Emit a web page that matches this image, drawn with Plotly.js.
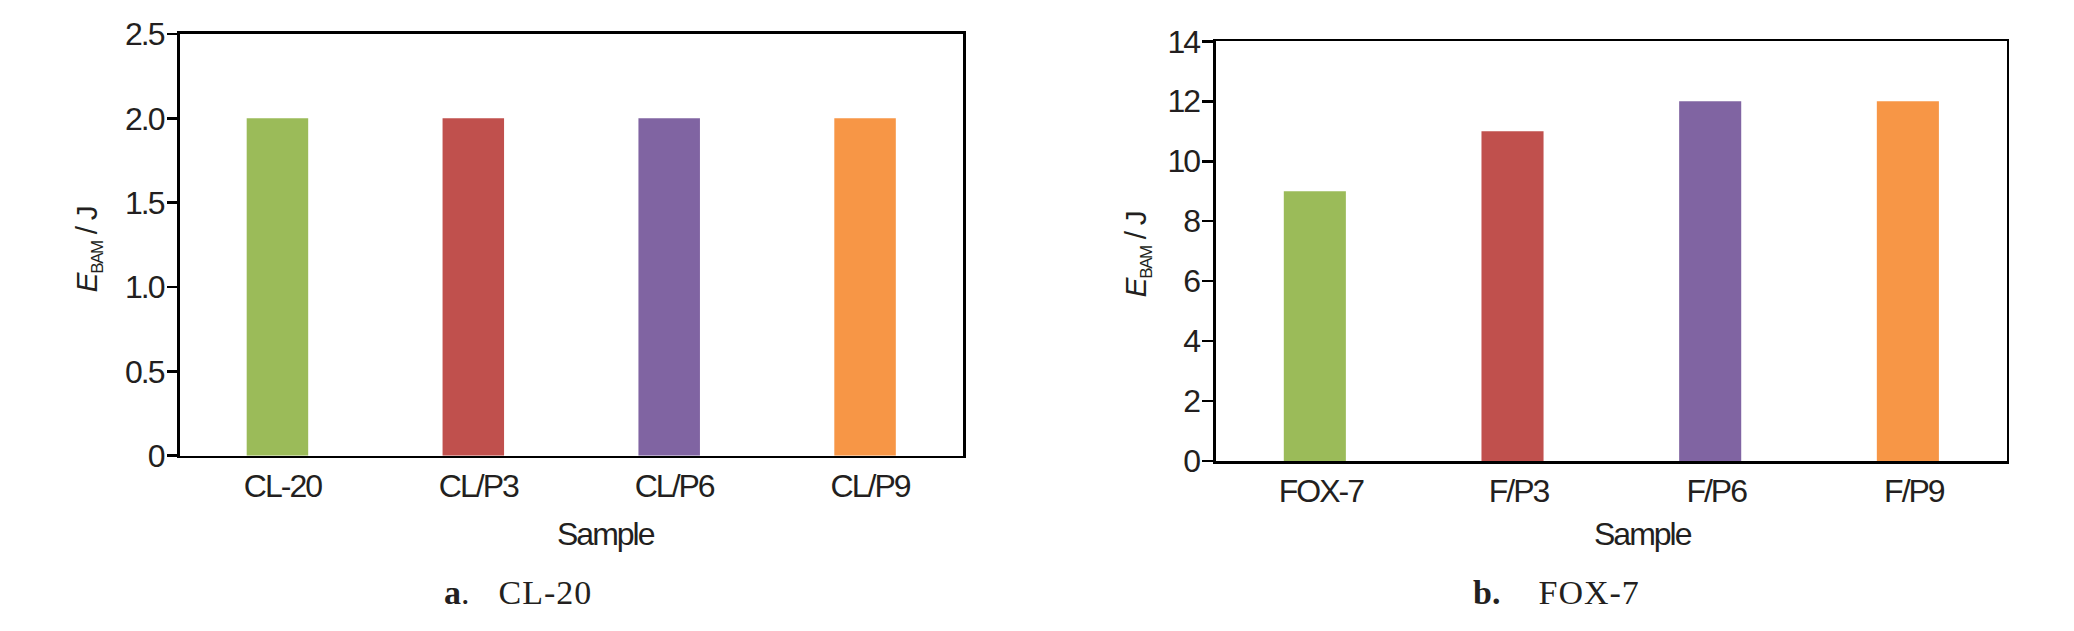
<!DOCTYPE html>
<html>
<head>
<meta charset="utf-8">
<script src="https://cdn.plot.ly/plotly-3.0.1.min.js"></script>
<style>
html,body{margin:0;padding:0;background:#fff;}
#chart{width:2074px;height:631px;}
#chart .xtick text, #chart .ytick text, #chart .x2tick text, #chart .y2tick text { letter-spacing: -2px; }
#chart g.annotation[data-index="0"] text, #chart g.annotation[data-index="1"] text { letter-spacing: -1.4px; }
#chart g.annotation[data-index="2"] text, #chart g.annotation[data-index="3"] text { letter-spacing: -2px; }
#chart g.annotation[data-index="5"] text, #chart g.annotation[data-index="7"] text { letter-spacing: 1px; }
</style>
</head>
<body>
<div id="chart"></div>
<script>
// ---- data ----
const samplesA = ["CL-20", "CL/P3", "CL/P6", "CL/P9"];
const energyA = [2.0, 2.0, 2.0, 2.0];
const samplesB = ["FOX-7", "F/P3", "F/P6", "F/P9"];
const energyB = [9, 11, 12, 12];
const barColors = ["#9BBB59", "#C0504D", "#8064A2", "#F79646"];
const yTickValsA = [0, 0.5, 1.0, 1.5, 2.0, 2.5];
const yTickTextA = ["0", "0.5", "1.0", "1.5", "2.0", "2.5"];
const yTickValsB = [0, 2, 4, 6, 8, 10, 12, 14];
const yTickTextB = ["0", "2", "4", "6", "8", "10", "12", "14"];
const yTitle = "<i>E</i><sub><span style=\"font-size:17px\">BAM</span></sub> / J";
const xTitle = "Sample";
const captionA = ["<b>a</b>.", "CL-20"];
const captionB = ["<b>b.</b>", "FOX-7"];

const W = 2074, H = 631;
const sans = "Liberation Sans, Arial, sans-serif";
const serif = "Liberation Serif, Times New Roman, serif";
const ink = "#231f20";
const tickFont = {family: sans, size: 32, color: ink};

const px = v => v / W;
const py = v => 1 - v / H;

const traces = [
  {type: "bar", x: samplesA, y: energyA, marker: {color: barColors}, xaxis: "x", yaxis: "y", showlegend: false, hoverinfo: "x+y"},
  {type: "bar", x: samplesB, y: energyB, marker: {color: barColors}, xaxis: "x2", yaxis: "y2", showlegend: false, hoverinfo: "x+y"}
];

const axisCommon = {
  showline: true, linecolor: "#000", linewidth: 2.6, mirror: true,
  showgrid: false, zeroline: false, tickfont: tickFont, fixedrange: true
};

const layout = {
  width: W, height: H,
  margin: {l: 0, r: 0, t: 0, b: 0},
  paper_bgcolor: "#fff", plot_bgcolor: "#fff",
  bargap: 0.686,
  xaxis: Object.assign({}, axisCommon, {domain: [px(179.5), px(963)], anchor: "y", ticks: "", ticklabelstandoff: 0, ticklabelshift: 5}),
  yaxis: Object.assign({}, axisCommon, {domain: [py(455.7), py(34)], anchor: "x", range: [0, 2.5],
    tickvals: yTickValsA, ticktext: yTickTextA, ticks: "outside", ticklen: 10, tickwidth: 2.6, tickcolor: "#000", ticklabelstandoff: -3}),
  xaxis2: Object.assign({}, axisCommon, {domain: [px(1216), px(2006.7)], anchor: "y2", ticks: "", ticklabelstandoff: 0, ticklabelshift: 6}),
  yaxis2: Object.assign({}, axisCommon, {domain: [py(461), py(41.3)], anchor: "x2", range: [0, 14],
    tickvals: yTickValsB, ticktext: yTickTextB, ticks: "outside", ticklen: 11, tickwidth: 2.6, tickcolor: "#000", ticklabelstandoff: -3}),
  annotations: [
    {xref: "paper", yref: "paper", x: px(88), y: py(250), text: yTitle, textangle: -90, showarrow: false,
      xanchor: "center", yanchor: "middle", font: {family: sans, size: 30, color: ink}},
    {xref: "paper", yref: "paper", x: px(1137), y: py(255), text: yTitle, textangle: -90, showarrow: false,
      xanchor: "center", yanchor: "middle", font: {family: sans, size: 30, color: ink}},
    {xref: "paper", yref: "paper", x: px(605.5), y: py(534), text: xTitle, showarrow: false,
      xanchor: "center", yanchor: "middle", font: {family: sans, size: 32, color: ink}},
    {xref: "paper", yref: "paper", x: px(1642), y: py(534), text: xTitle, showarrow: false,
      xanchor: "center", yanchor: "middle", font: {family: sans, size: 32, color: ink}},
    {xref: "paper", yref: "paper", x: px(442), y: py(592), text: captionA[0], showarrow: false,
      xanchor: "left", yanchor: "middle", font: {family: serif, size: 34, color: ink}},
    {xref: "paper", yref: "paper", x: px(499), y: py(592), text: captionA[1], showarrow: false,
      xanchor: "left", yanchor: "middle", font: {family: serif, size: 34, color: ink}},
    {xref: "paper", yref: "paper", x: px(1471), y: py(592), text: captionB[0], showarrow: false,
      xanchor: "left", yanchor: "middle", font: {family: serif, size: 34, color: ink}},
    {xref: "paper", yref: "paper", x: px(1539), y: py(592), text: captionB[1], showarrow: false,
      xanchor: "left", yanchor: "middle", font: {family: serif, size: 34, color: ink}}
  ]
};

Plotly.newPlot("chart", traces, layout, {displayModeBar: false, staticPlot: true});
</script>
</body>
</html>
